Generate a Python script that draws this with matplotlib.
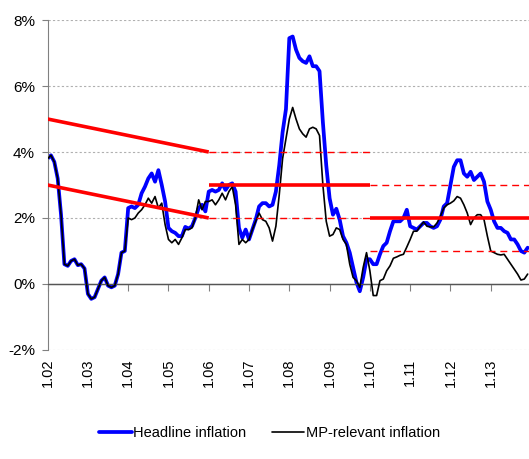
import matplotlib
matplotlib.use("Agg")
import matplotlib.pyplot as plt
import numpy as np

plt.rcParams['font.family'] = ['Liberation Sans', 'DejaVu Sans']

# Monthly data, Jan 2002 .. Dec 2013 (y/y %)
headline = [
    3.8, 3.9, 3.7, 3.2, 2.1, 0.6, 0.55, 0.7, 0.75, 0.57, 0.6, 0.47,          # 2002
    -0.3, -0.45, -0.4, -0.15, 0.1, 0.2, -0.05, -0.1, -0.05, 0.3, 0.95, 1.0,  # 2003
    2.3, 2.35, 2.3, 2.4, 2.75, 2.95, 3.2, 3.35, 3.1, 3.45, 3.0, 2.5,         # 2004
    1.7, 1.6, 1.55, 1.45, 1.45, 1.73, 1.68, 1.75, 2.0, 2.3, 2.4, 2.2,        # 2005
    2.8, 2.85, 2.8, 2.85, 3.05, 2.85, 3.0, 3.05, 2.8, 1.7, 1.4, 1.65,        # 2006
    1.35, 1.65, 1.95, 2.35, 2.45, 2.45, 2.35, 2.4, 2.8, 3.6, 4.6, 5.3,       # 2007
    7.45, 7.5, 7.1, 6.85, 6.75, 6.7, 6.9, 6.6, 6.6, 6.45, 4.9, 3.6,          # 2008
    2.6, 2.1, 2.28, 1.95, 1.45, 1.25, 0.95, 0.5, 0.05, -0.22, 0.2, 0.75,     # 2009
    0.75, 0.6, 0.6, 0.9, 1.15, 1.25, 1.6, 1.9, 1.9, 1.9, 2.0, 2.25,          # 2010
    1.75, 1.7, 1.65, 1.75, 1.85, 1.85, 1.75, 1.7, 1.75, 1.95, 2.35, 2.45,    # 2011
    3.0, 3.55, 3.75, 3.75, 3.35, 3.25, 3.4, 3.15, 3.25, 3.35, 3.1, 2.5,      # 2012
    2.25, 1.9, 1.7, 1.7, 1.6, 1.55, 1.35, 1.35, 1.2, 1.0, 0.95, 1.1,         # 2013
]
mp_relevant = [
    3.8, 3.9, 3.7, 3.2, 2.1, 0.6, 0.55, 0.7, 0.75, 0.57, 0.6, 0.47,          # 2002
    -0.3, -0.45, -0.4, -0.15, 0.1, 0.2, -0.05, -0.1, -0.05, 0.3, 0.95, 1.0,  # 2003
    2.0, 1.95, 2.0, 2.15, 2.25, 2.4, 2.6, 2.45, 2.65, 2.3, 2.45, 1.8,        # 2004
    1.35, 1.25, 1.35, 1.2, 1.4, 1.65, 1.65, 1.7, 2.0, 2.55, 2.25, 2.5,       # 2005
    2.5, 2.55, 2.4, 2.55, 2.75, 2.55, 2.8, 2.95, 2.4, 1.2, 1.35, 1.25,       # 2006
    1.35, 1.65, 1.9, 2.15, 1.95, 1.9, 1.7, 1.3, 1.75, 2.7, 3.8, 4.4,         # 2007
    5.0, 5.35, 5.0, 4.7, 4.55, 4.45, 4.7, 4.75, 4.7, 4.5, 3.0, 1.9,          # 2008
    1.45, 1.5, 1.7, 1.65, 1.35, 1.2, 0.6, 0.2, 0.1, -0.1, 0.5, 0.95,         # 2009
    0.4, -0.35, -0.35, 0.1, 0.15, 0.4, 0.55, 0.78, 0.82, 0.87, 0.9, 1.12,    # 2010
    1.35, 1.6, 1.6, 1.75, 1.88, 1.75, 1.73, 1.73, 1.85, 2.05, 2.3, 2.4,      # 2011
    2.45, 2.52, 2.65, 2.6, 2.4, 2.15, 1.8, 2.0, 2.1, 2.1, 1.95, 1.45,        # 2012
    1.0, 0.95, 0.9, 0.88, 0.9, 0.75, 0.6, 0.45, 0.3, 0.12, 0.15, 0.3,        # 2013
]

# Inflation target regimes
band1_years = [2002, 2006]
band1_upper = [5.0, 4.0]
band1_lower = [3.0, 2.0]
target2_years = [2006, 2010]
target2 = 3.0
target3_start = 2010
target3 = 2.0
tolerance = 1.0

tick_years = list(range(2002, 2014))
tick_labels = ['1.%02d' % (y - 2000) for y in tick_years]
y_ticks = [-2, 0, 2, 4, 6, 8]
y_tick_labels = ['%d%%' % v for v in y_ticks]

n = len(headline)
t = 2002 + np.arange(n) / 12.0
x_end = 2002 + 143.4 / 12.0

fig = plt.figure(figsize=(5.29, 4.59), dpi=100)
ax = fig.add_axes([0.09, 0.2375, 0.91, 0.7189])

ax.set_xlim(2002, x_end)
ax.set_ylim(-2, 8)

# gridlines
for v in y_ticks:
    if v != 0:
        ax.axhline(v, color='#b0b0b0', lw=0.8, ls=(0, (2, 2)), zorder=0)
ax.axhline(0, color='#555555', lw=1.0, zorder=1)

red = '#ff0000'
dash = (0, (5, 3.5))
# 2002-2005 declining band
ax.plot(band1_years, band1_upper, color=red, lw=2.6, zorder=4, solid_capstyle='butt')
ax.plot(band1_years, band1_lower, color=red, lw=2.6, zorder=4, solid_capstyle='butt')
# 2006-2009
ax.plot(target2_years, [target2, target2], color=red, lw=2.6, zorder=4, solid_capstyle='butt')
ax.plot(target2_years, [target2 + tolerance] * 2, color=red, lw=1.0, ls=dash, zorder=4)
ax.plot(target2_years, [target2 - tolerance] * 2, color=red, lw=1.0, ls=dash, zorder=4)
# 2010 onwards
ax.plot([target3_start, x_end], [target3, target3], color=red, lw=2.6, zorder=4, solid_capstyle='butt')
ax.plot([target3_start, x_end], [target3 + tolerance] * 2, color=red, lw=1.0, ls=dash, zorder=4)
ax.plot([target3_start, x_end], [target3 - tolerance] * 2, color=red, lw=1.0, ls=dash, zorder=4)

l1, = ax.plot(t, headline, color='#0000ff', lw=2.7, zorder=2,
              solid_joinstyle='round', solid_capstyle='round')
l2, = ax.plot(t, mp_relevant, color='black', lw=1.2, zorder=3,
              solid_joinstyle='round', solid_capstyle='round')

for s in ['top', 'right']:
    ax.spines[s].set_visible(False)
ax.spines['bottom'].set_position(('data', 0))
ax.spines['bottom'].set_color('#555555')
ax.spines['left'].set_color('#808080')

ax.set_xticks(tick_years)
ax.set_xticklabels(tick_labels, rotation=90, fontsize=10.5, va='top')
ax.tick_params(axis='x', direction='out', length=5, color='#808080', pad=49)
ax.set_yticks(y_ticks)
ax.set_yticklabels(y_tick_labels, fontsize=11)
ax.tick_params(axis='y', direction='out', length=4, color='#808080', pad=5)

fig.legend([l1, l2], ['Headline inflation', 'MP-relevant inflation'],
           loc='center', bbox_to_anchor=(0.51, 0.056), ncol=2, frameon=False,
           fontsize=10.5, handlelength=2.2, handletextpad=0.1, columnspacing=1.8)

fig.savefig('out.png', dpi=100)
